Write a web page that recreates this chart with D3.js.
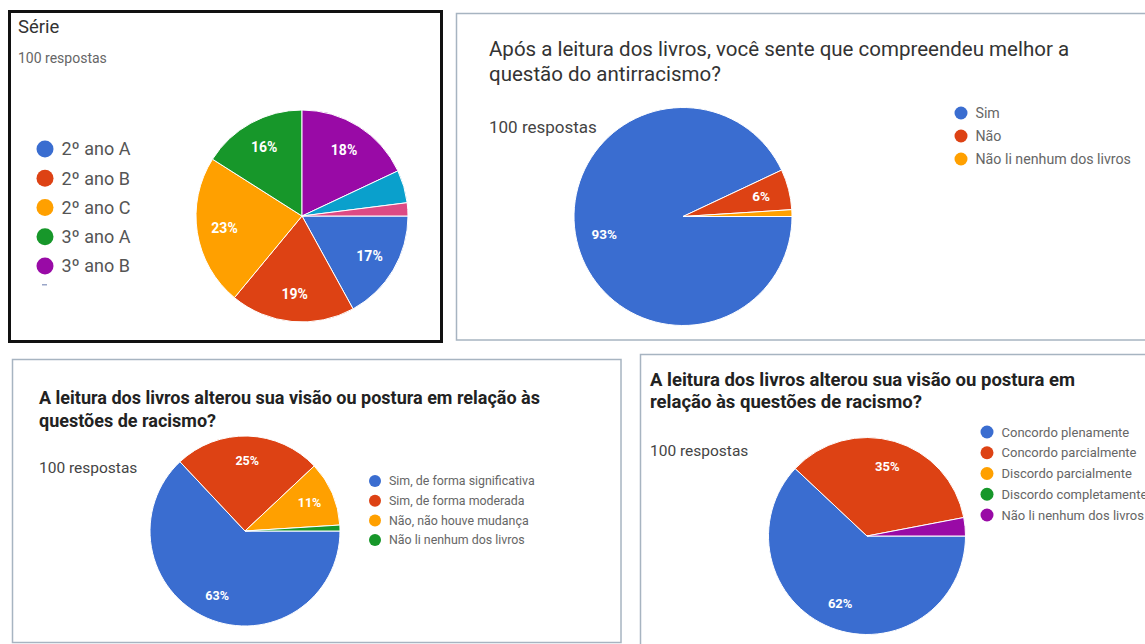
<!DOCTYPE html>
<html>
<head>
<meta charset="utf-8">
<script src="https://cdn.jsdelivr.net/npm/d3@7"></script>
<style>
  body { margin: 0; background: #fff; }
  svg { display: block; font-family: Roboto, "Noto Sans", sans-serif; }
</style>
</head>
<body>
<svg id="chart"></svg>
<script>
// Data (percent of 100 answers)
const serieLabels = ['2º ano A', '2º ano B', '2º ano C', '3º ano A', '3º ano B', '3º ano C', 'Outro'];
const serieValues = [17, 19, 23, 16, 18, 5, 2];

const antiLabels = ['Sim', 'Não', 'Não li nenhum dos livros'];
const antiValues = [93, 6, 1];

const visaoLabels = ['Sim, de forma significativa', 'Sim, de forma moderada', 'Não, não houve mudança', 'Não li nenhum dos livros'];
const visaoValues = [63, 25, 11, 1];

const posturaLabels = ['Concordo plenamente', 'Concordo parcialmente', 'Discordo parcialmente', 'Discordo completamente', 'Não li nenhum dos livros'];
const posturaValues = [62, 35, 0, 0, 3];

const respostas = '100 respostas';

//Google palette
const palette = ['#3a6dd0', '#dd4214', '#ffa000', '#17972a', '#990aa6', '#0aa0cc', '#dd4a84'];

const width = 1145;
const height = 644;

const svg = d3.select('#chart').attr('width', width).attr('height', height);
svg.append('rect').attr('width', width).attr('height', height).attr('fill', '#fff');

//Panel frames
svg.append('rect')
  .attr('x', 9.5).attr('y', 11.5).attr('width', 432).attr('height', 330)
  .attr('fill', 'none').attr('stroke', '#111').attr('stroke-width', 3);

const frameColor = '#a7b4c1';
[[456.5, 13.5, 720, 326.5], [12.5, 359.5, 608.5, 283], [640.5, 354.5, 540, 320]].forEach(f => {
  svg.append('rect')
    .attr('x', f[0]).attr('y', f[1]).attr('width', f[2]).attr('height', f[3])
    .attr('fill', 'none').attr('stroke', frameColor).attr('stroke-width', 1.5);
});

function addText(x, y, txt, size, color, weight) {
  svg.append('text')
    .attr('x', x).attr('y', y)
    .attr('font-size', size)
    .attr('font-weight', weight || 'normal')
    .attr('fill', color)
    .text(txt);
}

//Titles
addText(18, 33, 'Série', 18.5, '#333');
addText(18, 63, respostas, 14, '#666');

addText(489, 56, 'Após a leitura dos livros, você sente que compreendeu melhor a', 20.5, '#333');
addText(489, 81, 'questão do antirracismo?', 20.5, '#333');
addText(489, 133, respostas, 17, '#444');

addText(39, 404, 'A leitura dos livros alterou sua visão ou postura em relação às', 18, '#222', 'bold');
addText(39, 427, 'questões de racismo?', 18, '#222', 'bold');
addText(39, 473, respostas, 15.5, '#444');

addText(650, 386, 'A leitura dos livros alterou sua visão ou postura em', 18.5, '#222', 'bold');
addText(650, 408, 'relação às questões de racismo?', 18.5, '#222', 'bold');
addText(650, 456, respostas, 15.5, '#444');

//Pie drawing, starts at 3 o'clock and runs clockwise
function drawPie(values, cx, cy, r, labelSize) {
  const pie = d3.pie().sort(null)
    .startAngle(Math.PI / 2)
    .endAngle(Math.PI / 2 + 2 * Math.PI);
  const arc = d3.arc().innerRadius(0).outerRadius(r);
  const labelArc = d3.arc().innerRadius(r * 0.74).outerRadius(r * 0.74);
  const total = d3.sum(values);
  const g = svg.append('g').attr('transform', `translate(${cx},${cy})`);
  const arcs = pie(values).map((d, i) => Object.assign(d, { color: palette[i] }));

  g.selectAll('path')
    .data(arcs.filter(d => d.value > 0))
    .enter()
    .append('path')
    .attr('d', arc)
    .attr('fill', d => d.color)
    .attr('stroke', '#fff')
    .attr('stroke-width', 1);

  g.selectAll('text')
    .data(arcs.filter(d => d.value / total >= 0.055))
    .enter()
    .append('text')
    .attr('transform', d => `translate(${labelArc.centroid(d)})`)
    .attr('text-anchor', 'middle')
    .attr('dy', '0.35em')
    .attr('font-size', labelSize)
    .attr('font-weight', 'bold')
    .attr('fill', '#fff')
    .text(d => `${Math.round(d.value / total * 100)}%`);
}

function drawLegend(labels, x, y0, step, r, size, color, count) {
  const g = svg.append('g');
  const items = labels.slice(0, count || labels.length);
  const y = d3.scalePoint().domain(d3.range(items.length)).range([y0, y0 + step * (items.length - 1)]);
  g.selectAll('circle')
    .data(items)
    .enter()
    .append('circle')
    .attr('cx', x)
    .attr('cy', (d, i) => y(i))
    .attr('r', r)
    .attr('fill', (d, i) => palette[i]);
  g.selectAll('text')
    .data(items)
    .enter()
    .append('text')
    .attr('x', x + r + 8)
    .attr('y', (d, i) => y(i))
    .attr('dy', '0.35em')
    .attr('font-size', size)
    .attr('fill', color)
    .text(d => d);
}

drawPie(serieValues, 302, 216, 106, 14);
drawLegend(serieLabels, 45, 149, 29.25, 8.5, 18, '#555', 5);

drawPie(antiValues, 683, 216.5, 109, 13.5);
drawLegend(antiLabels, 961, 113, 23, 6.5, 14.2, '#666');

drawPie(visaoValues, 245, 531, 95, 12.5);
drawLegend(visaoLabels, 375, 481, 19.7, 6, 12.4, '#666');

drawPie(posturaValues, 867, 536, 98.5, 13);
drawLegend(posturaLabels, 987, 432, 20.75, 6.5, 13, '#666');

//small cut off mark below the first legend
svg.append('rect').attr('x', 42).attr('y', 284).attr('width', 5).attr('height', 1.5).attr('fill', '#9aa6c8');
</script>
</body>
</html>
